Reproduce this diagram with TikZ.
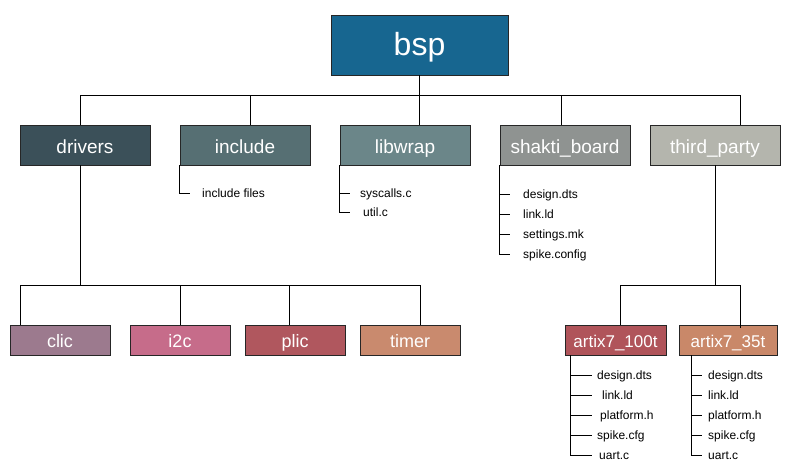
\documentclass[tikz,border=0pt]{standalone}
\usepackage{fontspec}
\setmainfont{Liberation Sans}
\usetikzlibrary{positioning}

\definecolor{cbsp}{HTML}{176690}
\definecolor{cdrivers}{HTML}{3B5059}
\definecolor{cinclude}{HTML}{566F73}
\definecolor{clibwrap}{HTML}{6B8689}
\definecolor{cshakti}{HTML}{8F9391}
\definecolor{cthird}{HTML}{B4B5AD}
\definecolor{cclic}{HTML}{9C7A8E}
\definecolor{ciic}{HTML}{C66C8A}
\definecolor{cplic}{HTML}{B0575E}
\definecolor{ctimer}{HTML}{C98A6E}
\definecolor{cartixa}{HTML}{B0545A}
\definecolor{cartixb}{HTML}{C98869}

\begin{document}
\begin{tikzpicture}[x=1pt,y=-1pt]
    \tikzset{folder/.style = {shape=rectangle,draw=black!85,line width=0.6pt,text=white,inner sep=0pt}}
    \tikzset{rootbox/.style = {folder,minimum width=177pt,minimum height=60pt,text height=23pt,text depth=3pt,font=\fontsize{32}{32}\selectfont}}
    \tikzset{subbox/.style = {folder,minimum width=130pt,minimum height=40pt,text height=17pt,text depth=1pt,font=\fontsize{19}{19}\selectfont}}
    \tikzset{leafbox/.style = {folder,minimum height=30pt,text height=15pt,text depth=1pt,font=\fontsize{18}{18}\selectfont}}
    \tikzset{file/.style = {anchor=west,inner sep=0pt,text height=9pt,text depth=1pt,font=\fontsize{12}{12}\selectfont}}
    \tikzset{edge/.style = {-,line width=0.8pt}}

    \fill[white] (0,0) rectangle (791,475);
    \useasboundingbox (0,0) rectangle (791,475);

    % folders

    \node[rootbox,fill=cbsp] (bsp) at (419.5,45) {bsp};

    \node[subbox,fill=cdrivers] (drivers) at (85,145) {drivers};
    \node[subbox,fill=cinclude] (include) at (245,145) {include};
    \node[subbox,fill=clibwrap] (libwrap) at (405,145) {libwrap};
    \node[subbox,fill=cshakti] (shakti) at (565,145) {shakti\_board};
    \node[subbox,fill=cthird] (third) at (715,145) {third\_party};

    \node[leafbox,fill=cclic,minimum width=100pt] (clic) at (60,340) {clic};
    \node[leafbox,fill=ciic,minimum width=100pt] (iic) at (180,340) {i2c};
    \node[leafbox,fill=cplic,minimum width=100pt] (plic) at (295,340) {plic};
    \node[leafbox,fill=ctimer,minimum width=100pt] (timer) at (410,340) {timer};

    \node[leafbox,fill=cartixa,minimum width=101pt,text height=14.5pt,text depth=0.5pt,font=\fontsize{17}{17}\selectfont] (artixa) at (615.5,340) {artix7\_100t};
    \node[leafbox,fill=cartixb,minimum width=98pt,text height=14.5pt,text depth=0.5pt,font=\fontsize{17}{17}\selectfont] (artixb) at (728,340) {artix7\_35t};

    % files

    \node[file] (incfiles) at (202,193) {include files};

    \node[file] (syscalls) at (360,193) {syscalls.c};
    \node[file] (utilc) at (363,212) {util.c};

    \node[file] (sdesign) at (523,194) {design.dts};
    \node[file] (slink) at (523,214) {link.ld};
    \node[file] (ssettings) at (523,234) {settings.mk};
    \node[file] (sspike) at (523,254) {spike.config};

    \node[file] (adesign) at (597,375) {design.dts};
    \node[file] (alink) at (602,395) {link.ld};
    \node[file] (aplatform) at (600,415) {platform.h};
    \node[file] (aspike) at (597,435) {spike.cfg};
    \node[file] (auart) at (599,455) {uart.c};

    \node[file] (bdesign) at (708,375) {design.dts};
    \node[file] (blink) at (708,395) {link.ld};
    \node[file] (bplatform) at (708,415) {platform.h};
    \node[file] (bspike) at (708,435) {spike.cfg};
    \node[file] (buart) at (708,455) {uart.c};

    % junctions
    \coordinate (top) at (419.5,95);
    \coordinate (drv) at (80,285);
    \coordinate (tpy) at (715,285);

    %edges
    \draw[edge] (bsp.south) to (top);
    \draw[edge] (top) to (top |- libwrap.north);
    \draw[edge] ([xshift=-5pt]drivers.north) |- (top);
    \draw[edge] ([xshift=5pt]include.north) |- (top);
    \draw[edge] ([xshift=-4pt]shakti.north) |- (top);
    \draw[edge] ([xshift=25pt]third.north) |- (top);

    \draw[edge] ([xshift=-5pt]drivers.south) to (drv);
    \draw[edge] ([xshift=-40pt]clic.north) |- (drv);
    \draw[edge] (iic.north) |- (drv);
    \draw[edge] ([xshift=-6pt]plic.north) |- (drv);
    \draw[edge] ([xshift=10pt]timer.north) |- (drv);

    \draw[edge] (third.south) to (tpy);
    \draw[edge] ([xshift=4.5pt]artixa.north) |- (tpy);
    \draw[edge] ([xshift=12pt,yshift=-3pt]artixb.north) |- (tpy);

    \draw[edge] (include.south west) |- ([xshift=-12pt]incfiles.west);

    \draw[edge] (libwrap.south west) |- ([xshift=-10pt]syscalls.west);
    \draw[edge] (libwrap.south west) |- ([xshift=-13pt]utilc.west);

    \draw[edge] (shakti.south west) |- ([xshift=-13pt]sdesign.west);
    \draw[edge] (shakti.south west) |- ([xshift=-13pt]slink.west);
    \draw[edge] (shakti.south west) |- ([xshift=-13pt]ssettings.west);
    \draw[edge] (shakti.south west) |- ([xshift=-13pt]sspike.west);

    \draw[edge] ([xshift=6pt]artixa.south west) |- ([xshift=-5pt]adesign.west);
    \draw[edge] ([xshift=6pt]artixa.south west) |- ([xshift=-10pt]alink.west);
    \draw[edge] ([xshift=6pt]artixa.south west) |- ([xshift=-8pt]aplatform.west);
    \draw[edge] ([xshift=6pt]artixa.south west) |- ([xshift=-5pt]aspike.west);
    \draw[edge] ([xshift=6pt]artixa.south west) |- ([xshift=-7pt]auart.west);

    \draw[edge] ([xshift=13pt]artixb.south west) |- ([xshift=-6pt]bdesign.west);
    \draw[edge] ([xshift=13pt]artixb.south west) |- ([xshift=-6pt]blink.west);
    \draw[edge] ([xshift=13pt]artixb.south west) |- ([xshift=-6pt]bplatform.west);
    \draw[edge] ([xshift=13pt]artixb.south west) |- ([xshift=-6pt]bspike.west);
    \draw[edge] ([xshift=13pt]artixb.south west) |- ([xshift=-6pt]buart.west);
\end{tikzpicture}
\end{document}
